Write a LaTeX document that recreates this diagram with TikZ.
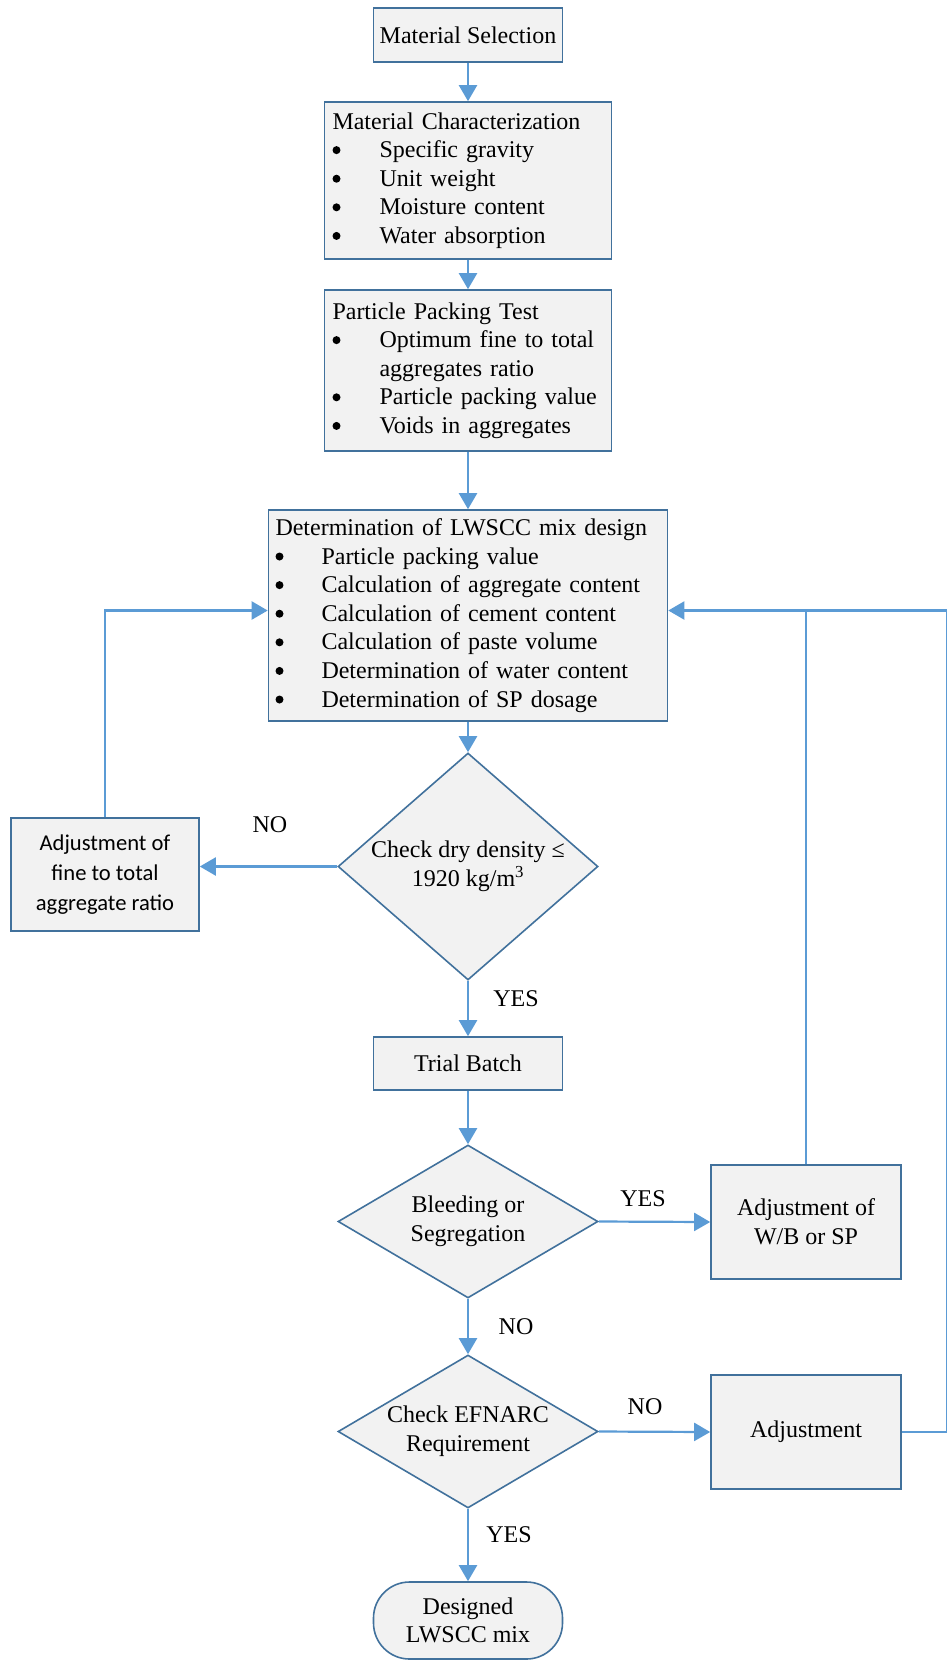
\documentclass[tikz,border=0pt]{standalone}
\usepackage{fontspec}
\setmainfont{Liberation Serif}
\newfontfamily\calibri{Carlito}
\usetikzlibrary{shapes.geometric,arrows.meta}
\definecolor{boxfill}{HTML}{F2F2F2}
\definecolor{boxline}{HTML}{41719C}
\definecolor{flow}{HTML}{5B9BD5}
\newcommand{\blt}{\tikz[baseline=0pt]\fill[black] (4pt,7.5pt) circle (4pt);}

\begin{document}
\begin{tikzpicture}[x=1pt,y=-1pt,
  every node/.style={font=\fontsize{24}{28.6}\selectfont},
  box/.style={draw=boxline,fill=boxfill,line width=1.6pt,inner sep=0pt,align=center},
  listbox/.style={box,inner xsep=8pt,align=left},
  decision/.style={box,diamond,minimum width=260pt},
  flowline/.style={draw=flow,line width=2.2pt},
  arrow/.style={flowline,-{Triangle[length=16pt,width=18pt]}},
  lbl/.style={inner sep=0pt}]
\useasboundingbox (0,0) rectangle (947,1660);

\node[box,minimum width=189pt,minimum height=54pt] (sel) at (468,35) {Material Selection};
\node[listbox,minimum width=287pt,minimum height=157pt,text width=271pt] (char) at (468,180.5) {%
  \begin{tabular}{@{}p{47pt}@{}l@{}}
  \multicolumn{2}{@{}l@{}}{Material Characterization}\\
  \blt & Specific gravity\\
  \blt & Unit weight\\
  \blt & Moisture content\\
  \blt & Water absorption
  \end{tabular}};
\node[listbox,minimum width=287pt,minimum height=161pt,text width=271pt] (pack) at (468,370.5) {%
  \begin{tabular}{@{}p{47pt}@{}l@{}}
  \multicolumn{2}{@{}l@{}}{Particle Packing Test}\\
  \blt & Optimum fine to total\\
       & aggregates ratio\\
  \blt & Particle packing value\\
  \blt & Voids in aggregates
  \end{tabular}};
\node[listbox,inner xsep=7pt,minimum width=399pt,minimum height=211pt,text width=385pt] (mix) at (468,615.5) {%
  \begin{tabular}{@{}p{46pt}@{}l@{}}
  \multicolumn{2}{@{}l@{}}{Determination of LWSCC mix design}\\
  \blt & Particle packing value\\
  \blt & Calculation of aggregate content\\
  \blt & Calculation of cement content\\
  \blt & Calculation of paste volume\\
  \blt & Determination of water content\\
  \blt & Determination of SP dosage
  \end{tabular}};
\node[decision,aspect=1.145,minimum height=227pt] (dens) at (468,866.5) {Check dry density ≤\\1920 kg/m\textsuperscript{3}};
\node[box,minimum width=188pt,minimum height=113pt,font=\calibri\fontsize{22.6}{30}\selectfont] (fine) at (105,874.5) {Adjustment of\\fine to total\\aggregate ratio};
\node[box,minimum width=189pt,minimum height=53pt] (trial) at (468,1063.5) {Trial Batch};
\node[decision,aspect=1.7,minimum height=153pt] (bleed) at (468,1221.5) {Bleeding or\\Segregation};
\node[box,minimum width=190pt,minimum height=114pt] (wbsp) at (806,1222) {Adjustment of\\W/B or SP};
\node[decision,aspect=1.7,minimum height=153pt] (efn) at (468,1431.5) {Check EFNARC\\Requirement};
\node[box,minimum width=190pt,minimum height=114pt] (adj) at (806,1432) {Adjustment};
\node[box,rounded corners=36pt,minimum width=189pt,minimum height=77pt] (done) at (468,1620.5) {Designed\\LWSCC mix};
\coordinate (rtop) at (947,610.5);

\node[lbl] (no1) at (270,825) {NO};
\node[lbl] (yes1) at (516,999) {YES};
\node[lbl] (yes2) at (643,1199) {YES};
\node[lbl] (no2) at (516,1327) {NO};
\node[lbl] (no3) at (645,1407) {NO};
\node[lbl] (yes3) at (509,1535) {YES};

\draw[arrow] (sel.south) -- (char.north);
\draw[arrow] (char.south) -- (pack.north);
\draw[arrow] (pack.south) -- (mix.north);
\draw[arrow] (mix.south) -- (dens.north);
\draw[arrow] (dens.west) -- (dens.west -| fine.east);
\draw[arrow] (fine.north) |- ([yshift=5pt]mix.west);
\draw[arrow] (dens.south) -- (trial.north);
\draw[arrow] (trial.south) -- (bleed.north);
\draw[arrow] (bleed.east) -- (wbsp.west);
\draw[flowline] (wbsp.north) -- (wbsp.north |- rtop);
\draw[arrow] (bleed.south) -- (efn.north);
\draw[arrow] (efn.east) -- (adj.west);
\draw[arrow] (adj.east) -| (rtop) -- (rtop -| mix.east);
\draw[arrow] (efn.south) -- (done.north);
\end{tikzpicture}
\end{document}
